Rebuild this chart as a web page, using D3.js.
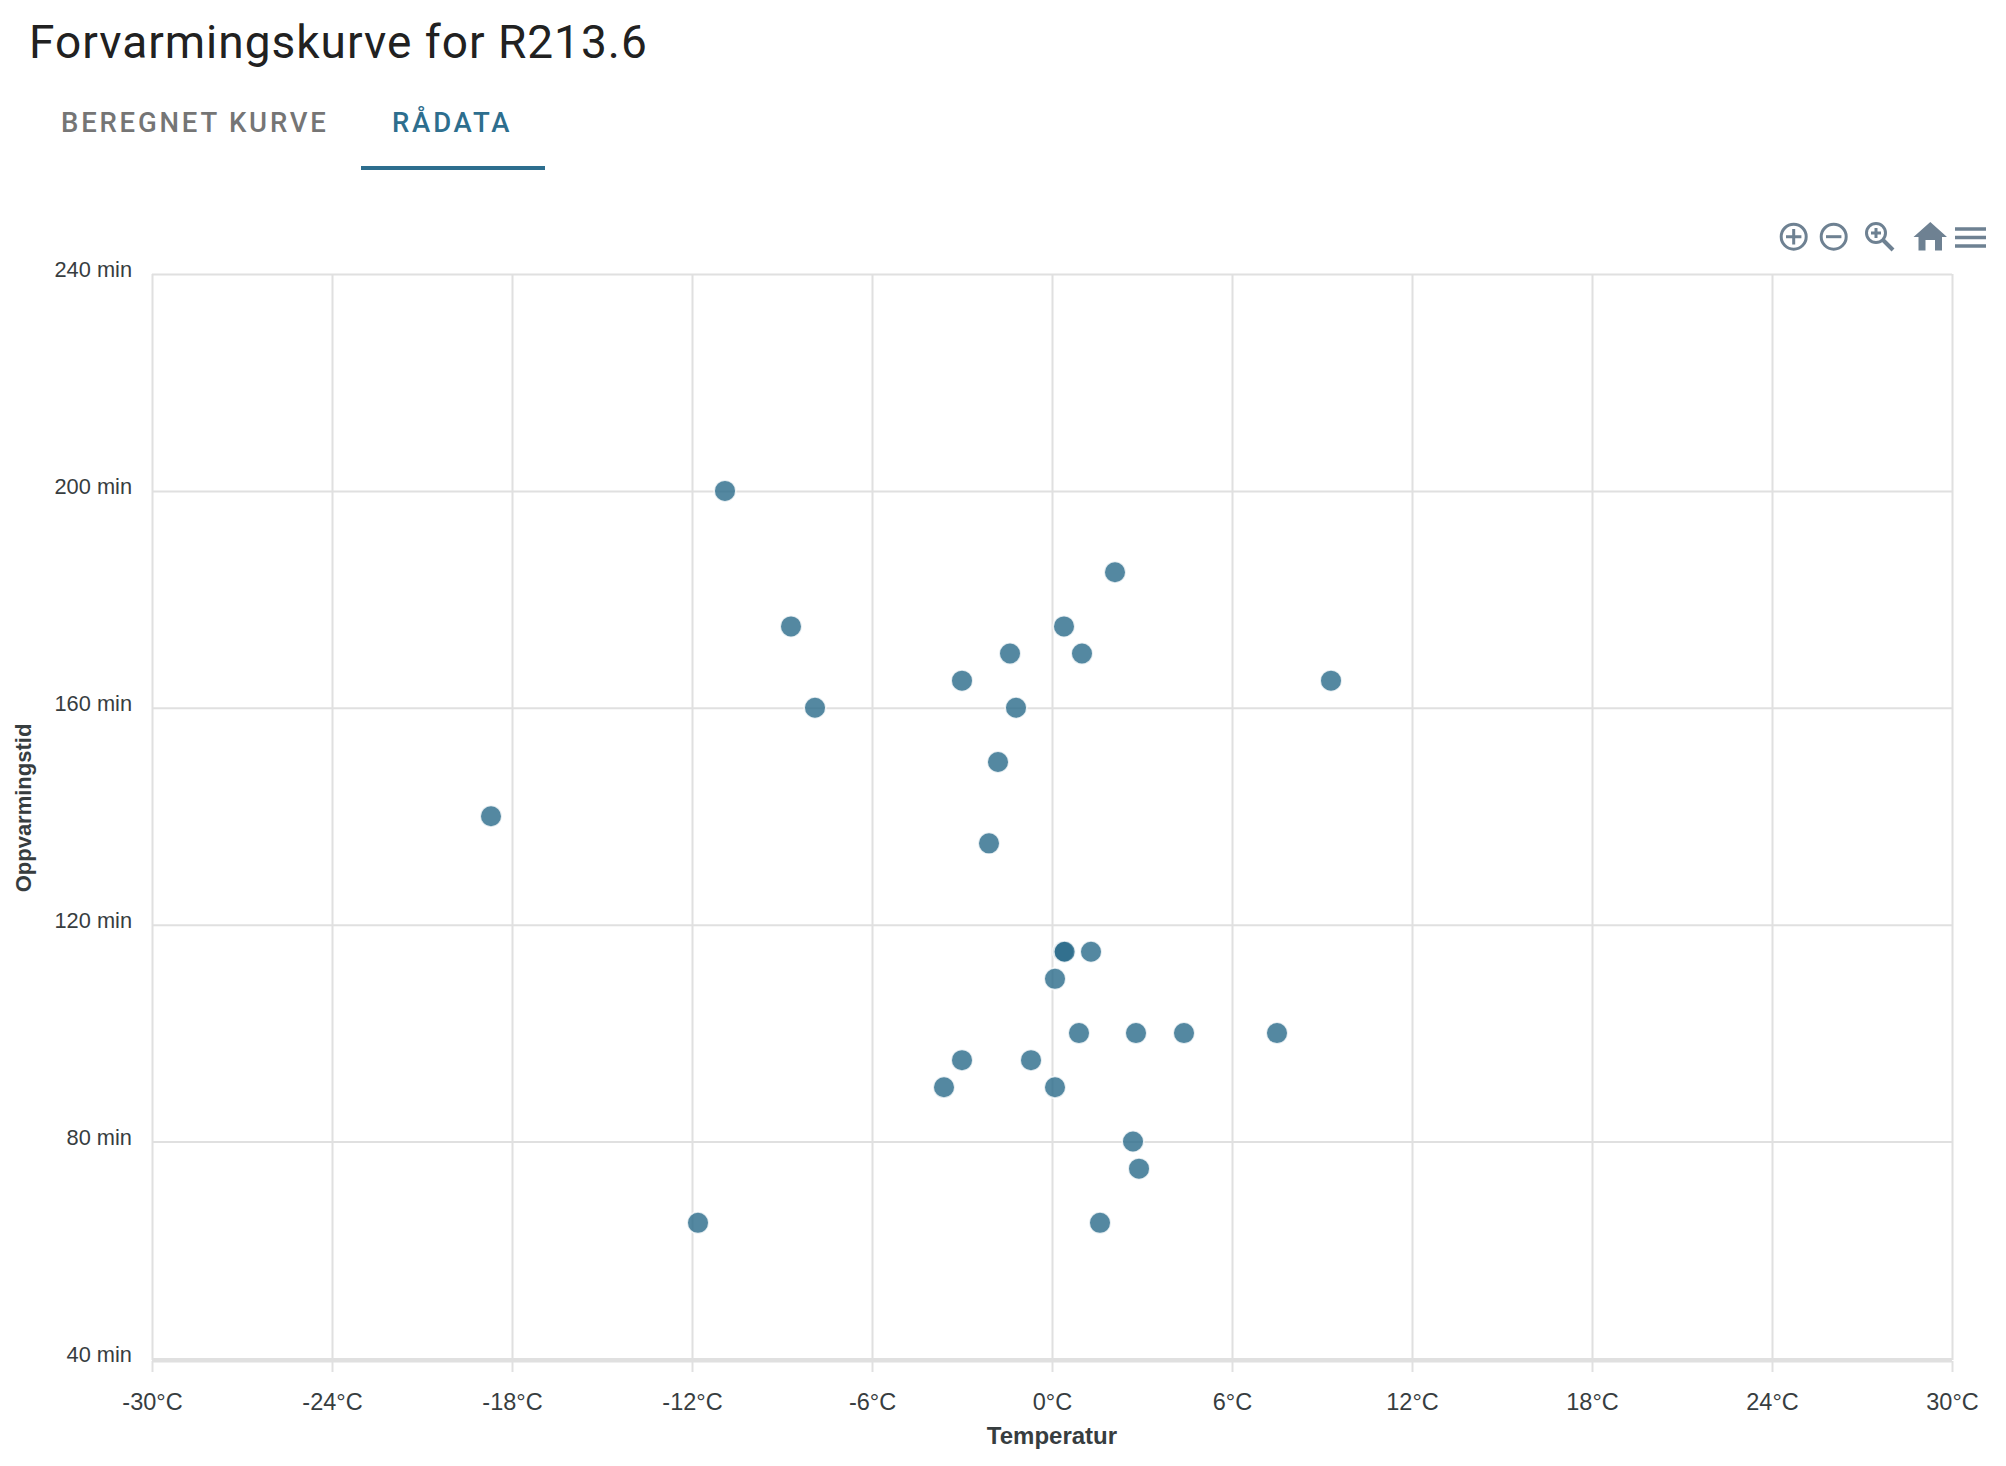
<!DOCTYPE html>
<html>
<head>
<meta charset="utf-8">
<script src="https://d3js.org/d3.v7.min.js"></script>
<style>
  html, body { margin: 0; padding: 0; background: #fff; }
  svg { display: block; }
  .grid line { stroke: #e0e0e0; stroke-width: 2; }
  .grid path { display: none; }
  .axis path { display: none; }
  .axis line { stroke: #e0e0e0; stroke-width: 2; }
  .axis text { font-family: "Liberation Sans", sans-serif; fill: #373d3f; }
</style>
</head>
<body>
<script>
const temperatur = [-10.9, 2.1, -8.7, 0.4, -1.4, 1.0, -3.0, 9.3, -7.9, -1.2, -1.8, -18.7, -2.1, 0.38, 0.42, 1.3, 0.1, 0.9, 2.8, 4.4, 7.5, -3.0, -0.7, -3.6, 0.1, 2.7, 2.9, -11.8, 1.6];
const minutter = [200, 185, 175, 175, 170, 170, 165, 165, 160, 160, 150, 140, 135, 115, 115, 115, 110, 100, 100, 100, 100, 95, 95, 90, 90, 80, 75, 65, 65];
const xTicks = [-30, -24, -18, -12, -6, 0, 6, 12, 18, 24, 30];
const yTicks = [40, 80, 120, 160, 200, 240];

const width = 2006, height = 1466;
const margin = {top: 274, right: 54, bottom: 108, left: 152};
const blue = '#2d6e8e';

const svg = d3.select('body').append('svg')
    .attr('width', width)
    .attr('height', height);

// header
svg.append('text')
    .attr('x', 29).attr('y', 58)
    .attr('font-family', 'Roboto').attr('font-size', 46)
    .attr('letter-spacing', 1).attr('fill', '#212121')
    .text('Forvarmingskurve for R213.6');
svg.append('text')
    .attr('x', 61).attr('y', 132)
    .attr('font-family', 'Roboto').attr('font-weight', 500).attr('font-size', 27.5)
    .attr('letter-spacing', 2.8).attr('fill', '#757575')
    .text('BEREGNET KURVE');
svg.append('text')
    .attr('x', 392).attr('y', 132)
    .attr('font-family', 'Roboto').attr('font-weight', 500).attr('font-size', 27.5)
    .attr('letter-spacing', 2.8).attr('fill', blue)
    .text('RÅDATA');
svg.append('rect')
    .attr('x', 361).attr('y', 166).attr('width', 184).attr('height', 4)
    .attr('fill', blue);

// scales
const x = d3.scaleLinear().domain([-30, 30]).range([margin.left, width - margin.right]);
const y = d3.scaleLinear().domain([40, 240]).range([1358.4, 274]);

// grid
svg.append('g').attr('class', 'grid')
    .attr('transform', 'translate(0,1360)')
    .call(d3.axisBottom(x).tickValues(xTicks).tickSize(-(1360 - 274)).tickFormat(''));
svg.append('g').attr('class', 'grid')
    .attr('transform', 'translate(' + margin.left + ',0)')
    .call(d3.axisLeft(y).tickValues(yTicks).tickSize(-(width - margin.left - margin.right)).tickFormat(''));

// bottom axis
const xAxis = svg.append('g').attr('class', 'axis')
    .attr('transform', 'translate(0,1361)')
    .call(d3.axisBottom(x).tickValues(xTicks).tickSize(11).tickPadding(21).tickFormat(d => d + '°C'));
xAxis.selectAll('text').attr('font-size', 23.5).attr('dy', '0.71em');
xAxis.append('line')
    .attr('x1', x(-30)).attr('x2', x(30)).attr('y1', 0).attr('y2', 0)
    .style('stroke-width', 3);

// left axis labels
const yAxis = svg.append('g').attr('class', 'axis')
    .attr('transform', 'translate(' + margin.left + ',0)')
    .call(d3.axisLeft(y).tickValues(yTicks).tickSize(0).tickPadding(20).tickFormat(d => d + ' min'));
yAxis.selectAll('text').attr('font-size', 21.8).attr('dy', '0.12em');

// axis titles
svg.append('text')
    .attr('x', x(0)).attr('y', 1444)
    .attr('text-anchor', 'middle')
    .attr('font-family', '"Liberation Sans", sans-serif').attr('font-weight', 700)
    .attr('font-size', 24).attr('fill', '#373d3f')
    .text('Temperatur');
svg.append('text')
    .attr('transform', 'translate(31,808) rotate(-90)')
    .attr('text-anchor', 'middle')
    .attr('font-family', '"Liberation Sans", sans-serif').attr('font-weight', 700)
    .attr('font-size', 22).attr('fill', '#373d3f')
    .text('Oppvarmingstid');

// points
svg.append('g').selectAll('circle')
    .data(temperatur)
    .enter().append('circle')
    .attr('cx', d => x(d))
    .attr('cy', (d, i) => y(minutter[i]))
    .attr('r', 10.75)
    .attr('fill', '#296a8a')
    .attr('fill-opacity', 0.8)
    .attr('stroke', '#fff')
    .attr('stroke-opacity', 0.8)
    .attr('stroke-width', 1.5);

// toolbar
const iconColor = '#6e8192';
const tb = svg.append('g').attr('fill', 'none').attr('stroke', iconColor).attr('stroke-width', 3);
tb.append('circle').attr('cx', 1793.7).attr('cy', 236.7).attr('r', 12.5);
tb.append('path').attr('d', 'M1786 236.7H1801.4M1793.7 229V244.4');
tb.append('circle').attr('cx', 1833.7).attr('cy', 236.7).attr('r', 12.5);
tb.append('path').attr('d', 'M1826 236.7H1841.4');
tb.append('circle').attr('cx', 1876).attr('cy', 233).attr('r', 9.5);
tb.append('path').attr('d', 'M1871 233H1881M1876 228V238');
tb.append('path').attr('d', 'M1883 240L1893 250').attr('stroke-width', 4);
svg.append('path')
    .attr('d', 'M1930.3 222L1947 237H1942V250.5H1935V240H1925.5V250.5H1918.5V237H1913.5Z')
    .attr('fill', iconColor);
tb.append('path').attr('d', 'M1955 229H1986M1955 237.5H1986M1955 246H1986').attr('stroke-width', 3.5);
</script>
</body>
</html>
